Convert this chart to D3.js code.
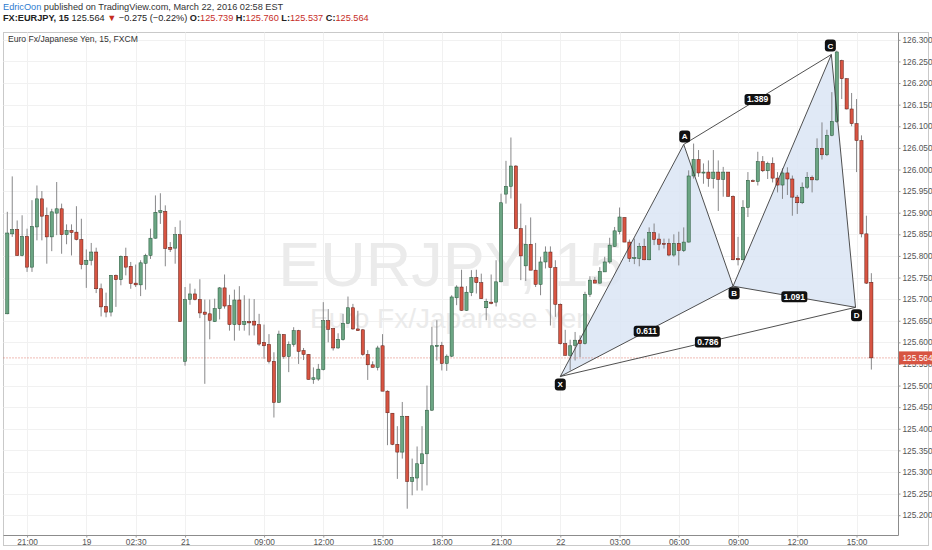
<!DOCTYPE html>
<html>
<head>
<meta charset="utf-8">
<script src="https://cdn.jsdelivr.net/npm/d3@7"></script>
<style>
body { margin: 0; background: #fff; }
svg { display: block; font-family: "Liberation Sans", Arial, sans-serif; }
</style>
</head>
<body>
<svg id="chart" width="932" height="550"></svg>
<script>
// 15 min candles, EURJPY (FXCM)
var opens = [125.666,125.851,125.861,125.801,125.845,125.774,125.867,125.932,125.894,125.844,125.899,125.909,125.849,125.859,125.855,125.838,125.780,125.790,125.809,125.724,
125.683,125.670,125.755,125.745,125.799,125.776,125.737,125.733,125.783,125.801,125.841,125.900,125.903,125.820,125.818,125.849,125.556,125.699,125.712,125.699,
125.670,125.666,125.648,125.678,125.726,125.685,125.641,125.698,125.641,125.648,125.649,125.641,125.600,125.595,125.556,125.461,125.618,125.567,125.595,125.627,
125.581,125.572,125.514,125.515,125.537,125.650,125.632,125.587,125.606,125.644,125.680,125.631,125.629,125.572,125.548,125.542,125.592,125.487,125.436,125.364,
125.346,125.429,125.278,125.286,125.319,125.342,125.443,125.591,125.593,125.551,125.568,125.703,125.728,125.674,125.715,125.750,125.738,125.680,125.693,125.693,
125.740,125.943,125.961,126.008,125.863,125.777,125.827,125.767,125.734,125.786,125.809,125.773,125.688,125.597,125.570,125.593,125.605,125.597,125.711,125.744,
125.737,125.763,125.786,125.822,125.856,125.889,125.832,125.794,125.794,125.822,125.791,125.854,125.839,125.829,125.829,125.802,125.829,125.812,125.832,125.985,
126.023,125.992,125.994,125.979,125.994,125.977,125.994,125.938,125.794,125.791,125.912,125.974,125.972,126.018,125.997,126.014,125.980,125.964,125.992,125.978,
125.936,125.923,125.959,125.982,125.976,126.049,126.034,126.079,126.111,126.252,126.210,126.140,126.106,126.067,125.851,125.739];
var highs = [125.902,125.984,125.882,125.894,125.863,125.929,125.963,125.950,125.912,125.909,125.971,125.921,125.873,125.873,125.915,125.886,125.815,125.830,125.819,125.736,
125.715,125.756,125.757,125.801,125.819,125.786,125.780,125.790,125.805,125.863,125.940,125.945,125.917,125.832,125.867,125.882,125.728,125.736,125.724,125.746,
125.699,125.699,125.701,125.728,125.757,125.710,125.722,125.730,125.709,125.701,125.700,125.666,125.641,125.619,125.577,125.627,125.619,125.602,125.635,125.629,
125.587,125.573,125.542,125.550,125.693,125.677,125.633,125.621,125.666,125.706,125.689,125.673,125.631,125.582,125.556,125.592,125.619,125.489,125.436,125.406,
125.462,125.429,125.331,125.359,125.406,125.500,125.636,125.651,125.601,125.572,125.709,125.732,125.768,125.730,125.767,125.768,125.759,125.701,125.757,125.790,
125.944,126.020,126.074,126.010,125.921,125.871,125.889,125.830,125.798,125.822,125.822,125.790,125.690,125.629,125.606,125.624,125.616,125.717,125.753,125.751,
125.774,125.798,125.842,125.867,125.912,125.889,125.838,125.840,125.830,125.840,125.866,125.875,125.852,125.840,125.840,125.850,125.856,125.866,125.998,126.060,
126.045,126.014,126.021,126.045,126.021,126.006,125.994,125.940,125.844,125.929,125.994,125.977,126.041,126.031,126.018,126.028,125.994,126.003,126.005,125.986,
125.941,125.970,125.994,125.986,126.072,126.109,126.092,126.179,126.275,126.254,126.211,126.177,126.163,126.079,125.893,125.760];
var lows = [125.665,125.844,125.800,125.799,125.763,125.763,125.836,125.836,125.782,125.811,125.848,125.805,125.827,125.801,125.836,125.769,125.726,125.778,125.714,125.660,
125.658,125.660,125.682,125.732,125.755,125.724,125.728,125.707,125.722,125.793,125.840,125.874,125.776,125.809,125.782,125.647,125.546,125.687,125.697,125.656,
125.504,125.607,125.647,125.653,125.678,125.627,125.604,125.627,125.627,125.616,125.616,125.592,125.562,125.551,125.426,125.460,125.562,125.531,125.590,125.550,
125.559,125.514,125.504,125.511,125.535,125.600,125.581,125.585,125.604,125.643,125.629,125.627,125.569,125.513,125.542,125.535,125.487,125.362,125.362,125.284,
125.331,125.215,125.246,125.257,125.257,125.269,125.441,125.558,125.535,125.534,125.566,125.686,125.673,125.673,125.707,125.713,125.701,125.651,125.688,125.683,
125.739,125.921,125.933,125.863,125.744,125.742,125.767,125.728,125.709,125.771,125.639,125.659,125.595,125.569,125.535,125.558,125.566,125.595,125.705,125.737,
125.736,125.763,125.782,125.821,125.850,125.832,125.786,125.781,125.776,125.790,125.790,125.825,125.813,125.817,125.799,125.798,125.778,125.809,125.831,125.979,
125.983,125.967,125.960,125.956,125.904,125.937,125.937,125.790,125.778,125.790,125.890,125.973,125.963,125.994,125.978,125.970,125.947,125.932,125.941,125.893,
125.897,125.920,125.955,125.947,125.974,126.023,126.031,126.077,126.108,126.163,126.139,126.100,125.994,125.843,125.735,125.537];
var closes = [125.853,125.861,125.801,125.845,125.774,125.868,125.932,125.892,125.844,125.902,125.909,125.849,125.859,125.854,125.838,125.780,125.790,125.809,125.724,125.682,
125.670,125.755,125.745,125.799,125.774,125.736,125.733,125.784,125.801,125.841,125.901,125.905,125.817,125.815,125.849,125.648,125.699,125.712,125.699,125.668,
125.665,125.651,125.678,125.726,125.684,125.641,125.698,125.641,125.648,125.645,125.640,125.596,125.592,125.556,125.461,125.619,125.567,125.595,125.627,125.579,
125.572,125.514,125.518,125.538,125.650,125.630,125.587,125.607,125.644,125.680,125.631,125.627,125.572,125.548,125.542,125.587,125.487,125.437,125.364,125.346,
125.429,125.278,125.287,125.319,125.342,125.443,125.592,125.593,125.551,125.568,125.705,125.728,125.674,125.716,125.750,125.738,125.701,125.695,125.690,125.740,
125.923,125.961,126.008,125.863,125.800,125.827,125.767,125.734,125.786,125.809,125.773,125.688,125.597,125.570,125.592,125.605,125.597,125.711,125.744,125.737,
125.764,125.786,125.825,125.858,125.890,125.832,125.794,125.796,125.822,125.791,125.854,125.838,125.827,125.827,125.802,125.829,125.812,125.832,125.985,126.023,
125.992,125.994,125.979,125.994,125.977,125.994,125.938,125.791,125.791,125.912,125.975,125.973,126.018,125.997,126.014,125.980,125.964,125.992,125.978,125.936,
125.923,125.959,125.982,125.976,126.049,126.034,126.079,126.111,126.272,126.210,126.140,126.106,126.067,125.851,125.737,125.564];

// time axis (candle index -> label)
var timeTickIndex = [4, 16, 26, 36, 52, 64, 76, 88, 100, 112, 124, 136, 148, 160, 172];
var timeTickLabels = ["21:00", "19", "02:30", "21", "09:00", "12:00", "15:00", "18:00", "21:00", "22", "03:00", "06:00", "09:00", "12:00", "15:00"];

// price axis
var priceTicks = [125.20, 125.25, 125.30, 125.35, 125.40, 125.45, 125.50, 125.55, 125.60, 125.65, 125.70, 125.75,
  125.80, 125.85, 125.90, 125.95, 126.00, 126.05, 126.10, 126.15, 126.20, 126.25, 126.30];

// harmonic pattern drawing
var patternNames = ["X", "A", "B", "C", "D"];
var patternIndex = [112.0, 137.0, 147.0, 166.9, 171.8];
var patternPrice = [125.521, 126.058, 125.730, 126.266, 125.681];
var ratioLabels = ["1.389", "0.611", "1.091", "0.786"];
var ratioFrom = ["A", "X", "B", "X"];
var ratioTo = ["C", "B", "D", "D"];

var changeText = "\u22120.275 (\u22120.22%)";

//--layout
var svg = d3.select("#chart");
var W = 932, H = 550;
var pLeft = 3.5, pRight = 898.5, pTop = 32.5, pBottom = 535.5;
var upFill = "#6ba583", upLine = "#225437", dnFill = "#d75442", dnLine = "#5b1a13";

var x = d3.scaleLinear().domain([-0.77, 180.5]).range([pLeft, pRight]);
var y = d3.scaleLinear().domain([125.153, 126.317]).range([pBottom, pTop]);

var n = closes.length;
var last = n - 1;

//--header text
var h1 = svg.append("text").attr("x", 3).attr("y", 10).attr("font-size", 9.2).attr("fill", "#333");
h1.append("tspan").attr("fill", "#2e7bcf").text("EdricOon");
h1.append("tspan").text(" published on TradingView.com, March 22, 2016 02:58 EST");

var fmt = d3.format(".3f");
var h2 = svg.append("text").attr("x", 3).attr("y", 21).attr("font-size", 9.2).attr("fill", "#222");
h2.append("tspan").attr("font-weight", "bold").text("FX:EURJPY, 15");
h2.append("tspan").text(" " + fmt(closes[last]) + " ");
h2.append("tspan").attr("fill", "#c62d1f").text("\u25BC");
h2.append("tspan").text(" " + changeText + " ");
[["O:", opens[last]], ["H:", highs[last]], ["L:", lows[last]], ["C:", closes[last]]].forEach(function (d) {
	h2.append("tspan").attr("font-weight", "bold").text(" " + d[0]);
	h2.append("tspan").attr("fill", "#c62d1f").text(fmt(d[1]));
});

//--frame
svg.append("rect")
	.attr("x", pLeft).attr("y", pTop)
	.attr("width", 928.5 - pLeft).attr("height", 545.5 - pTop)
	.attr("fill", "#fff").attr("stroke", "#c9c9c9");

//--grid
var grid = svg.append("g");
grid.selectAll(".hg").data(priceTicks).enter().append("line")
	.attr("x1", pLeft).attr("x2", pRight)
	.attr("y1", function (d) { return Math.round(y(d)) + 0.5; })
	.attr("y2", function (d) { return Math.round(y(d)) + 0.5; })
	.attr("stroke", "#f1f1f1");
grid.selectAll(".vg").data(timeTickIndex).enter().append("line")
	.attr("x1", function (d) { return Math.round(x(d)) + 0.5; })
	.attr("x2", function (d) { return Math.round(x(d)) + 0.5; })
	.attr("y1", pTop).attr("y2", pBottom)
	.attr("stroke", "#f1f1f1");

//--watermark
var cx = (pLeft + pRight) / 2;
svg.append("text").attr("x", cx).attr("y", 286).attr("text-anchor", "middle")
	.attr("font-size", 63).attr("fill", "#ebebeb").text("EURJPY, 15");
svg.append("text").attr("x", cx).attr("y", 328).attr("text-anchor", "middle")
	.attr("font-size", 28).attr("fill", "#ebebeb").text("Euro Fx/Japanese Yen");

//--legend
svg.append("text").attr("x", 8).attr("y", 42).attr("font-size", 8.6).attr("fill", "#333")
	.text("Euro Fx/Japanese Yen, 15, FXCM");

//--pattern fill (under candles)
function pt(name) {
	var k = patternNames.indexOf(name);
	return [x(patternIndex[k]), y(patternPrice[k])];
}
var fillG = svg.append("g");
[["X", "A", "B"], ["B", "C", "D"]].forEach(function (tri) {
	fillG.append("polygon")
		.attr("points", tri.map(function (p) { return pt(p).join(","); }).join(" "))
		.attr("fill", "#dbe5f5").attr("opacity", 0.85);
});

//--last price line
svg.append("line")
	.attr("x1", pLeft).attr("x2", pRight)
	.attr("y1", y(closes[last])).attr("y2", y(closes[last]))
	.attr("stroke", "#d75442").attr("stroke-width", 0.8).attr("stroke-dasharray", "1,2");

//--candles
var idx = d3.range(n);
var cg = svg.append("g");
cg.selectAll(".wick").data(idx).enter().append("line")
	.attr("x1", function (i) { return x(i); })
	.attr("x2", function (i) { return x(i); })
	.attr("y1", function (i) { return y(highs[i]); })
	.attr("y2", function (i) { return y(lows[i]); })
	.attr("stroke", "#7b7b7d").attr("stroke-width", 0.9);
cg.selectAll(".body").data(idx).enter().append("rect")
	.attr("x", function (i) { return x(i) - 1.6; })
	.attr("width", 3.2)
	.attr("y", function (i) { return y(Math.max(opens[i], closes[i])); })
	.attr("height", function (i) { return Math.max(1, Math.abs(y(opens[i]) - y(closes[i]))); })
	.attr("fill", function (i) { return closes[i] >= opens[i] ? upFill : dnFill; })
	.attr("stroke", function (i) { return closes[i] >= opens[i] ? upLine : dnLine; })
	.attr("stroke-width", 0.5);

//--pattern lines
var lines = [["X", "A"], ["A", "B"], ["B", "C"], ["C", "D"], ["X", "B"], ["B", "D"], ["X", "D"], ["A", "C"]];
var lg = svg.append("g");
lines.forEach(function (l) {
	var a = pt(l[0]), b = pt(l[1]);
	lg.append("line")
		.attr("x1", a[0]).attr("y1", a[1]).attr("x2", b[0]).attr("y2", b[1])
		.attr("stroke", "#3c3c3c").attr("stroke-width", 0.9);
});

// ratio labels
ratioLabels.forEach(function (t, k) {
	var a = pt(ratioFrom[k]), b = pt(ratioTo[k]);
	var mx = (a[0] + b[0]) / 2, my = (a[1] + b[1]) / 2;
	lg.append("rect").attr("x", mx - 13).attr("y", my - 5.5).attr("width", 26).attr("height", 11)
		.attr("rx", 2.5).attr("fill", "#111");
	lg.append("text").attr("x", mx).attr("y", my + 3).attr("text-anchor", "middle")
		.attr("font-size", 8.5).attr("font-weight", "bold").attr("fill", "#fff").text(t);
});

// point labels
var labelDy = { X: 8, A: -8, B: 7, C: -9, D: 8 };
var labelDx = { X: 0, A: 1, B: 1, C: -1, D: 1 };
patternNames.forEach(function (name) {
	var p = pt(name);
	var lx = p[0] + labelDx[name], ly = p[1] + labelDy[name];
	lg.append("rect").attr("x", lx - 5.5).attr("y", ly - 6).attr("width", 11).attr("height", 12)
		.attr("rx", 3).attr("fill", "#111");
	lg.append("text").attr("x", lx).attr("y", ly + 3).attr("text-anchor", "middle")
		.attr("font-size", 8).attr("font-weight", "bold").attr("fill", "#fff").text(name);
});

//--axes
svg.append("line").attr("x1", pRight).attr("x2", pRight).attr("y1", pTop).attr("y2", pBottom)
	.attr("stroke", "#8c8c8c");
svg.append("line").attr("x1", pLeft).attr("x2", pRight).attr("y1", pBottom).attr("y2", pBottom)
	.attr("stroke", "#8c8c8c");

var yAxis = svg.append("g").attr("transform", "translate(" + pRight + ",0)")
	.call(d3.axisRight(y).tickValues(priceTicks).tickSize(2).tickPadding(2).tickFormat(d3.format(".3f")));
yAxis.select(".domain").remove();
yAxis.selectAll("text").attr("font-size", 8.3).attr("fill", "#555").attr("font-family", "Liberation Sans, Arial, sans-serif");
yAxis.selectAll("line").attr("stroke", "#999");

var xAxis = svg.append("g").attr("transform", "translate(0," + pBottom + ")")
	.call(d3.axisBottom(x).tickValues(timeTickIndex).tickSize(2).tickPadding(2)
		.tickFormat(function (d, i) { return timeTickLabels[i]; }));
xAxis.select(".domain").remove();
xAxis.selectAll("text").attr("font-size", 8.3).attr("fill", "#555").attr("font-family", "Liberation Sans, Arial, sans-serif");
xAxis.selectAll("line").attr("stroke", "#999");

//--last price tag
var ly0 = y(closes[last]);
svg.append("rect").attr("x", pRight + 0.5).attr("y", ly0 - 6.5).attr("width", 33).attr("height", 13)
	.attr("fill", "#d75442");
svg.append("text").attr("x", pRight + 4).attr("y", ly0 + 3).attr("font-size", 8.3).attr("fill", "#fff")
	.text(fmt(closes[last]));
</script>
</body>
</html>
